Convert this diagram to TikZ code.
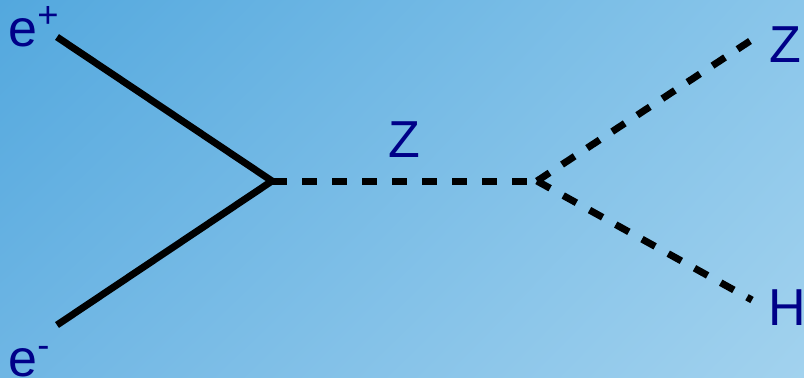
\documentclass[tikz,border=0pt]{standalone}
\usepackage{fontspec}
\usetikzlibrary{shadings}
\setmainfont{Liberation Sans}
\definecolor{bgTL}{HTML}{53A8DE}
\definecolor{bgTR}{HTML}{8AC6EA}
\definecolor{bgBL}{HTML}{6FB6E4}
\definecolor{bgBR}{HTML}{A2D2EE}
\definecolor{labelblue}{HTML}{000088}
\tikzset{
  fermion/.style={line width=3.5pt, line join=miter},
  boson/.style={line width=3.5pt, dash pattern=on 7.5pt off 7.5pt},
  particle/.style={font=\fontsize{26}{30}\selectfont, text=labelblue, inner sep=0pt},
}
\begin{document}
\begin{tikzpicture}[x=0.5pt, y=-0.5pt]
  % background with a diagonal gradient
  \shade[upper left=bgTL, upper right=bgTR, lower left=bgBL, lower right=bgBR]
    (0,0) rectangle (804,377);
  \useasboundingbox (0,0) rectangle (804,377);

  % vertices and external ends
  \coordinate (ep) at (57,37);
  \coordinate (em) at (57,325);
  \coordinate (v1) at (272,181);
  \coordinate (v2) at (537,181);
  \coordinate (zout) at (750,41);
  \coordinate (hout) at (752,300);

  % incoming electron and positron
  \draw[fermion] (ep) -- (v1) -- (em);

  % Z propagator and outgoing Z and H
  \draw[boson] (v1) -- (v2);
  \draw[boson] (v2) -- (zout);
  \draw[boson] (v2) -- (hout);

  % labels
  \node[particle, anchor=base west] (lep) at (8,46) {e\textsuperscript{+}};
  \node[particle, anchor=base west] (lem) at (8,376) {e\textsuperscript{-}};
  \node[particle, anchor=base] (lz) at (404,157) {Z};
  \node[particle, anchor=base] (lzo) at (785,62) {Z};
  \node[particle, anchor=base] (lh) at (787,325) {H};
\end{tikzpicture}
\end{document}
